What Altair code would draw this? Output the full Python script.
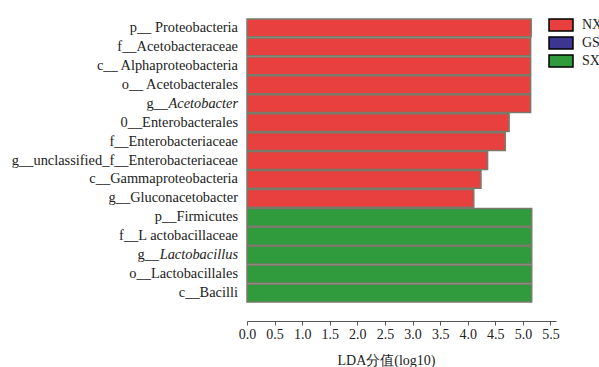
import altair as alt
import pandas as pd

# LEfSe results: taxon prefix, taxon name, italic flag, enriched group, LDA score
prefixes = ["p__ ", "f__", "c__ ", "o__ ", "g__", "0__", "f__", "g__", "c__", "g__",
            "p__", "f__", "g__ ", "o__", "c__"]
names = ["Proteobacteria", "Acetobacteraceae", "Alphaproteobacteria", "Acetobacterales",
         "Acetobacter", "Enterobacterales", "Enterobacteriaceae",
         "unclassified_f__Enterobacteriaceae", "Gammaproteobacteria", "Gluconacetobacter",
         "Firmicutes", "L actobacillaceae", "Lactobacillus", "Lactobacillales", "Bacilli"]
italic = [False, False, False, False, True, False, False, False, False, False,
          False, False, True, False, False]
groups = ["NX"] * 10 + ["SX"] * 5
lda = [5.15, 5.14, 5.14, 5.14, 5.14, 4.75, 4.68, 4.36, 4.24, 4.11,
       5.16, 5.16, 5.16, 5.16, 5.16]

group_domain = ["NX", "GS", "SX"]
group_colors = ["#E8403F", "#3C3591", "#2F9B3D"]
tick_values = [0.0, 0.5, 1.0, 1.5, 2.0, 2.5, 3.0, 3.5, 4.0, 4.5, 5.0, 5.5]

df = pd.DataFrame({
    "prefix": prefixes,
    "name": names,
    "italic": italic,
    "group": groups,
    "lda": lda,
})
df["label"] = df["prefix"] + df["name"]
order = df["label"].tolist()

FONT = "'Liberation Serif', 'Times New Roman', serif"
FS = 14.4

y_enc = alt.Y("label:N", sort=order,
              scale=alt.Scale(paddingInner=0.06, paddingOuter=0.0),
              axis=None)

bars = alt.Chart(df).mark_bar(stroke="#7A7A6A", strokeWidth=1.5).encode(
    x=alt.X("lda:Q",
            scale=alt.Scale(domain=[0, 5.6], nice=False),
            axis=alt.Axis(values=tick_values, format=".1f", offset=19,
                          grid=False, tickSize=4, domainColor="#555555",
                          tickColor="#555555", labelFont=FONT, labelFontSize=14,
                          labelColor="#222222", labelPadding=2, labelFlush=False,
                          title="LDA分值(log10)", titleFont=FONT,
                          titleFontSize=14, titleFontWeight="normal",
                          titleColor="#222222", titleX=139, titleY=43,
                          titleAlign="center", titleBaseline="alphabetic")),
    y=y_enc,
    color=alt.Color("group:N",
                    scale=alt.Scale(domain=group_domain, range=group_colors),
                    legend=alt.Legend(orient="none", legendX=301, legendY=-1,
                                      title=None,
                                      # 24x12 rectangle swatch, drawn right of its anchor
                                      symbolType="M-1,-1H3V1H-1Z",
                                      symbolSize=144, symbolStrokeColor="black",
                                      symbolStrokeWidth=1.5, symbolOpacity=1,
                                      labelFont=FONT, labelFontSize=14,
                                      labelColor="#222222", labelOffset=20,
                                      clipHeight=14, rowPadding=4)),
)

text_base = alt.Chart(df).mark_text(
    align="right", baseline="middle", font=FONT, fontSize=FS, color="#222222"
)

# plain labels
plain = text_base.transform_filter("!datum.italic").encode(
    x=alt.value(-9), y=y_enc, text="label:N"
)

# italic genus names
ital = alt.Chart(df).mark_text(
    align="right", baseline="middle", font=FONT, fontSize=FS,
    fontStyle="italic", color="#222222"
).transform_filter("datum.italic").encode(
    x=alt.value(-9), y=y_enc, text="name:N"
)

# prefixes in front of the italic names
pre_aceto = alt.Chart(df).mark_text(
    align="right", baseline="middle", font=FONT, fontSize=FS, color="#222222",
    dx=-70
).transform_filter("datum.name == 'Acetobacter'").encode(
    x=alt.value(-9), y=y_enc, text="prefix:N"
)
pre_lacto = alt.Chart(df).mark_text(
    align="right", baseline="middle", font=FONT, fontSize=FS, color="#222222",
    dx=-79
).transform_filter("datum.name == 'Lactobacillus'").encode(
    x=alt.value(-9), y=y_enc, text="prefix:N"
)

chart = alt.layer(bars, plain, ital, pre_aceto, pre_lacto).properties(
    width=309, height=283,
    autosize=alt.AutoSizeParams(type="none"),
    padding={"left": 247, "top": 19, "right": 43, "bottom": 65},
    background="white",
).configure_view(stroke=None)

chart.save("out.html", embed_options={"renderer": "svg", "actions": False})
